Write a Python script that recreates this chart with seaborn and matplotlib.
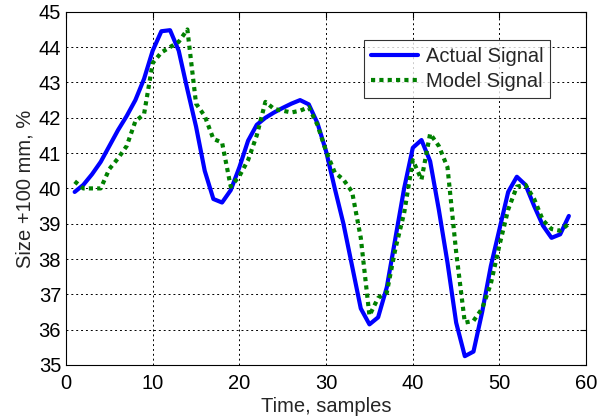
import matplotlib
matplotlib.use("Agg")
import matplotlib.pyplot as plt
import seaborn as sns
import pandas as pd

# Sample index and the two signals (size offset in %)
samples = list(range(1, 59))

actual_signal = [
    39.9, 40.1, 40.4, 40.75, 41.2, 41.65, 42.05, 42.5, 43.1, 43.9,
    44.45, 44.48, 43.9, 42.8, 41.75, 40.5, 39.7, 39.6, 39.95, 40.6,
    41.35, 41.8, 42.0, 42.15, 42.28, 42.4, 42.5, 42.38, 41.85, 41.05,
    40.0, 39.0, 37.8, 36.6, 36.15, 36.35, 37.2, 38.6, 40.0, 41.15,
    41.37, 40.77, 39.4, 37.9, 36.2, 35.25, 35.38, 36.5, 37.8, 38.85,
    39.9, 40.33, 40.1, 39.5, 38.95, 38.6, 38.7, 39.22,
]

model_signal = [
    40.2, 40.0, 40.0, 40.0, 40.55, 40.85, 41.2, 41.9, 42.1, 43.55,
    43.85, 44.0, 44.15, 44.5, 42.4, 42.05, 41.4, 41.3, 40.05, 40.35,
    40.8, 41.5, 42.45, 42.25, 42.2, 42.15, 42.2, 42.3, 41.8, 41.05,
    40.45, 40.25, 39.9, 38.6, 36.4, 36.9, 37.05, 38.3, 39.3, 40.8,
    40.25, 41.55, 41.2, 40.6, 38.2, 36.2, 36.25, 36.6, 37.3, 38.4,
    39.4, 40.05, 40.1, 39.7, 39.1, 38.85, 38.8, 39.0,
]

x_ticks = [0, 10, 20, 30, 40, 50, 60]
y_ticks = [35, 36, 37, 38, 39, 40, 41, 42, 43, 44, 45]

sns.set_style("white")
plt.rcParams["font.family"] = ["Liberation Sans", "DejaVu Sans"]

df = pd.DataFrame({
    "t": samples * 2,
    "value": actual_signal + model_signal,
    "series": ["Actual Signal"] * len(samples) + ["Model Signal"] * len(samples),
})

fig = plt.figure(figsize=(6.0, 4.16), dpi=100)
ax = fig.add_axes([0.11, 0.1226, 0.867, 0.849])

sns.lineplot(data=df[df.series == "Actual Signal"], x="t", y="value",
             color=(0, 0, 1), linewidth=3, ax=ax, label="Actual Signal")
sns.lineplot(data=df[df.series == "Model Signal"], x="t", y="value",
             color=(0, 0.5, 0), linewidth=3, ax=ax, label="Model Signal")
ax.lines[1].set_dashes((1, 1))

ax.set_xlim(0, 60)
ax.set_ylim(35, 45)
ax.set_xticks(x_ticks)
ax.set_yticks(y_ticks)
ax.tick_params(direction="in", length=4, width=0.8, labelsize=14.5,
               top=True, right=True, colors="black")
ax.tick_params(axis="x", pad=6.5)
ax.tick_params(axis="y", pad=3.5)
ax.grid(True, color="black", linestyle=(0, (2, 3)), linewidth=0.7)
for s in ax.spines.values():
    s.set_color("black")
    s.set_linewidth(0.8)

ax.set_xlabel("Time, samples", fontsize=14.5, labelpad=3)
ax.set_ylabel("Size +100 mm, %", fontsize=14.5, labelpad=3)

leg = ax.legend(loc="upper right", bbox_to_anchor=(0.931, 0.921),
                borderaxespad=0, fontsize=14.5, frameon=True, fancybox=False,
                handlelength=2.3, handletextpad=0.4, borderpad=0.35,
                labelspacing=0.3)
leg.get_frame().set_edgecolor("black")
leg.get_frame().set_linewidth(0.8)
leg.get_lines()[1].set_dashes((1, 1))

fig.savefig("out.png", dpi=100)
